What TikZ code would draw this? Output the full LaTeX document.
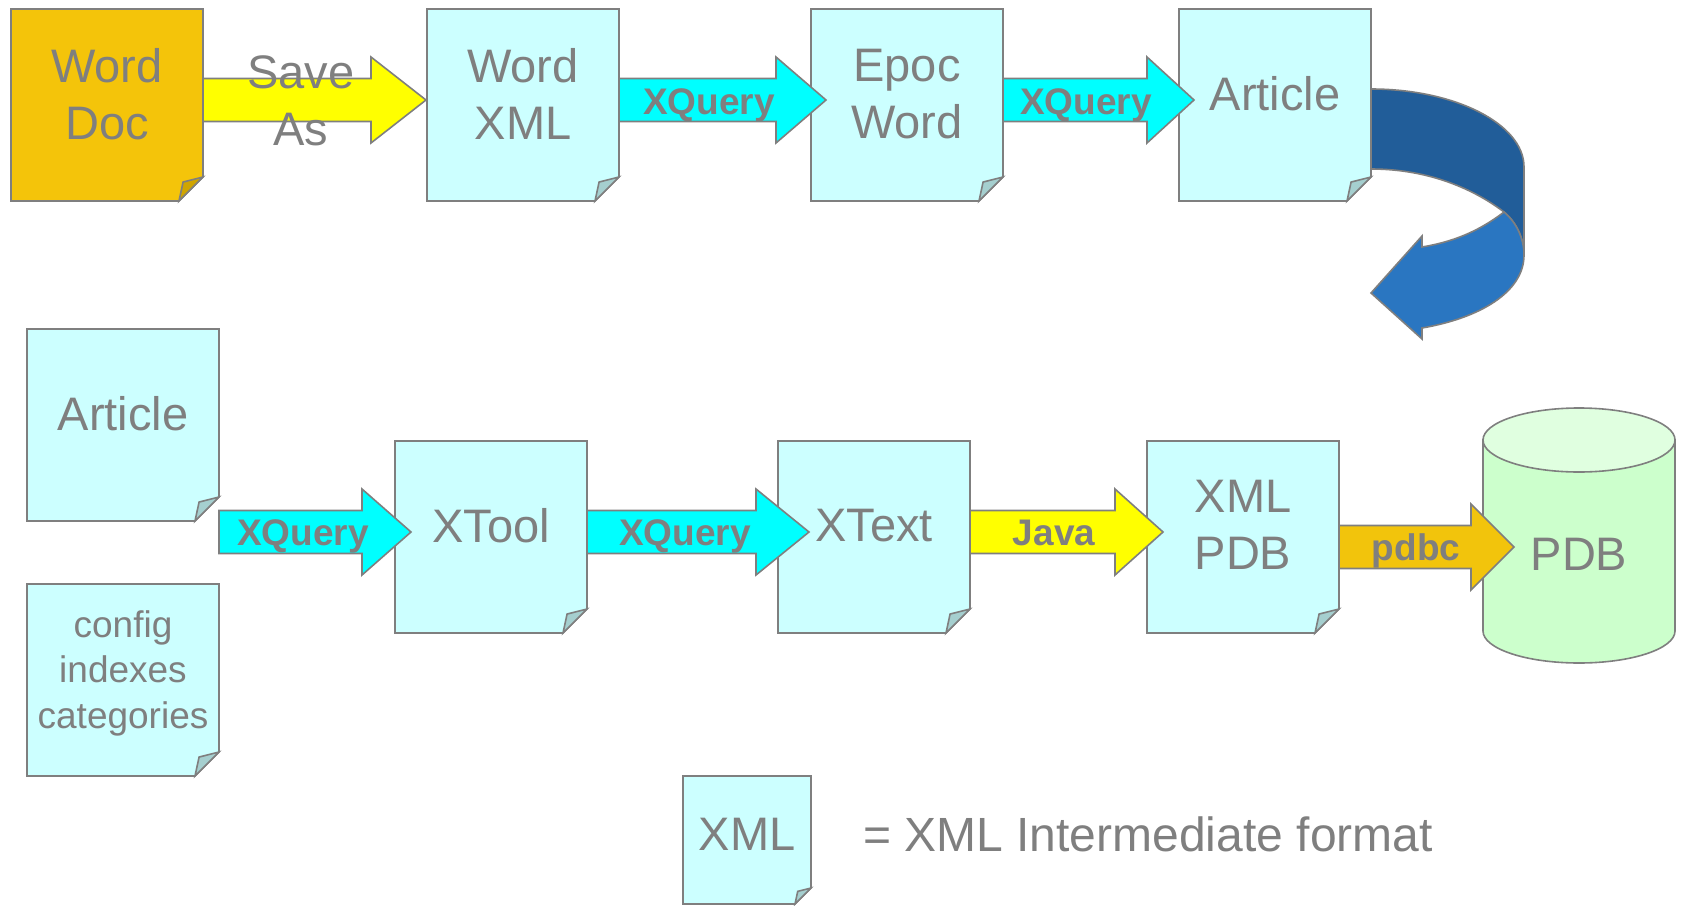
\documentclass[tikz,border=0pt]{standalone}
\usepackage{fontspec}
\setmainfont{Liberation Sans}
\usetikzlibrary{calc}
\definecolor{tgray}{HTML}{7F7F7F}
\definecolor{lgray}{HTML}{7F7F7F}
\definecolor{boxcyan}{HTML}{CCFFFF}
\definecolor{foldcyan}{HTML}{A5CFCF}
\definecolor{wordgold}{HTML}{F4C40A}
\definecolor{foldgold}{HTML}{D0A500}
\definecolor{arrcyan}{HTML}{00FFFF}
\definecolor{arryellow}{HTML}{FFFF00}
\definecolor{arrgold}{HTML}{F2C40C}
\definecolor{dblue}{HTML}{215D99}
\definecolor{lblue}{HTML}{2A76C1}
\definecolor{cylbody}{HTML}{CCFFCC}
\definecolor{cyltop}{HTML}{E0FFE0}
\tikzset{
  docnode/.style={inner sep=0pt, outer sep=0pt, minimum width=#1pt, minimum height=#1pt, anchor=north west},
  docnode/.default=192,
  outl/.style={draw=lgray, line width=1.6pt, line join=miter},
  big/.style={text=tgray, font=\fontsize{47pt}{57pt}\selectfont, align=center, inner sep=0pt},
  mid/.style={text=tgray, font=\fontsize{37pt}{45.5pt}\selectfont, align=center, inner sep=0pt},
  lbl/.style={text=tgray, font=\bfseries\fontsize{37pt}{44pt}\selectfont, inner sep=0pt},
}
% #1 name, #2 x, #3 y, #4 size, #5 fill, #6 fold fill, #7 fold size
\newcommand{\mydoc}[7]{%
  \node[docnode=#4] (#1) at (#2,#3) {};
  \path[outl, fill=#5] (#1.north west) -- (#1.north east) -- ([yshift=#7pt]#1.south east)
     -- ([xshift=-#7pt]#1.south east) -- (#1.south west) -- cycle;
  \path[outl, fill=#6] ([xshift=-#7pt]#1.south east) -- ([xshift={-0.83*#7pt}, yshift={0.79*#7pt}]#1.south east)
     -- ([yshift=#7pt]#1.south east) -- cycle;
}
% #1 fill, #2 from node, #3 to node, #4 centre y, #5 tip overshoot, #6 head length, #7 shaft half, #8 head half
\newcommand{\myarrow}[8]{%
  \path[outl, fill=#1] let \p1=(#2.east), \p2=(#3.west) in
    (\x1, {-#4pt+#7pt}) -- ({\x2+#5pt-#6pt}, {-#4pt+#7pt}) -- ({\x2+#5pt-#6pt}, {-#4pt+#8pt})
    -- ({\x2+#5pt}, {-#4pt}) -- ({\x2+#5pt-#6pt}, {-#4pt-#8pt}) -- ({\x2+#5pt-#6pt}, {-#4pt-#7pt})
    -- (\x1, {-#4pt-#7pt}) -- cycle;
}
\begin{document}
\begin{tikzpicture}[x=1pt, y=-1pt]
\useasboundingbox (0,0) rectangle (1681,905);

% curved U-turn arrow
\path[outl, fill=dblue] (1371,89) .. controls (1455,89) and (1524,124) .. (1524,167) -- (1524,255)
   .. controls (1524,238) and (1516,222) .. (1504,212)
   .. controls (1475,190) and (1430,169) .. (1371,169) -- cycle;
\path[outl, fill=lblue] (1504,212) .. controls (1478,232) and (1452,242) .. (1422,247)
   -- (1422,236) -- (1371,293) -- (1422,339) -- (1422,328)
   .. controls (1480,318) and (1524,292) .. (1524,255)
   .. controls (1524,238) and (1516,222) .. (1504,212) -- cycle;

% top row
\mydoc{wd}{11}{9}{192}{wordgold}{foldgold}{24}
\mydoc{wx}{427}{9}{192}{boxcyan}{foldcyan}{24}
\mydoc{ew}{811}{9}{192}{boxcyan}{foldcyan}{24}
\mydoc{art}{1179}{9}{192}{boxcyan}{foldcyan}{24}

% bottom row
\mydoc{art2}{27}{329}{192}{boxcyan}{foldcyan}{24}
\mydoc{cfg}{27}{584}{192}{boxcyan}{foldcyan}{24}
\mydoc{xt}{395}{441}{192}{boxcyan}{foldcyan}{24}
\mydoc{xx}{778}{441}{192}{boxcyan}{foldcyan}{24}
\mydoc{xp}{1147}{441}{192}{boxcyan}{foldcyan}{24}

% cylinder
\node[inner sep=0pt, outer sep=0pt, minimum width=192pt, minimum height=255pt, anchor=north west] (pdb) at (1483,408) {};
\path[outl, fill=cylbody] (1483,440) -- (1483,631) arc[start angle=180, end angle=360, x radius=96pt, y radius=32pt] -- (1675,440) -- cycle;
\path[outl, fill=cyltop] (1579,440) ellipse [x radius=96pt, y radius=32pt];

% legend
\mydoc{leg}{683}{776}{128}{boxcyan}{foldcyan}{16}

% block arrows
\myarrow{arryellow}{wd}{wx}{100}{-1}{55}{21.5}{43}
\myarrow{arrcyan}{wx}{ew}{100}{15}{50}{21.5}{43}
\myarrow{arrcyan}{ew}{art}{100}{15}{47}{21.5}{43}
\myarrow{arrcyan}{art2}{xt}{532}{16}{49}{21.5}{43}
\myarrow{arrcyan}{xt}{xx}{532}{31}{53}{21.5}{43}
\myarrow{arryellow}{xx}{xp}{532}{16}{48}{21.5}{43}
\myarrow{arrgold}{xp}{pdb}{547}{31}{43}{21.5}{43}

% texts
\node[big] (wdT) at ([yshift=11pt]wd.center) {Word\\Doc};
\node[big] (wxT) at ([yshift=11pt]wx.center) {Word\\XML};
\node[big] (ewT) at ([yshift=11pt]ew.center) {Epoc\\Word};
\node[big] (artT) at ([yshift=11pt]art.center) {Article};
\node[big] (art2T) at ([yshift=11pt]art2.center) {Article};
\node[mid] (cfgT) at ([yshift=7pt]cfg.center) {config\\indexes\\categories};
\node[big] (xtT) at ([yshift=11pt]xt.center) {XTool};
\node[big] (xxT) at ([yshift=11pt]xx.center) {XText};
\node[big] (xpT) at ([yshift=12pt]xp.center) {XML\\PDB};
\node[big] (pdbT) at (1579,554) {PDB};
\node[big] (legT) at ([yshift=6pt]leg.center) {XML};
\node[big, font=\fontsize{48pt}{57pt}\selectfont, anchor=west] (legD) at (863,834) {= XML Intermediate format};

% arrow labels
\node[big] (saveT) at (301,101) {Save\\As};
\node[lbl] (q1) at (709,105) {XQuery};
\node[lbl] (q2) at (1086,105) {XQuery};
\node[lbl] (q3) at (303,536) {XQuery};
\node[lbl] (q4) at (685,536) {XQuery};
\node[lbl] (jv) at (1054,533) {Java};
\node[lbl] (pd) at (1416,551) {pdbc};
\end{tikzpicture}
\end{document}
